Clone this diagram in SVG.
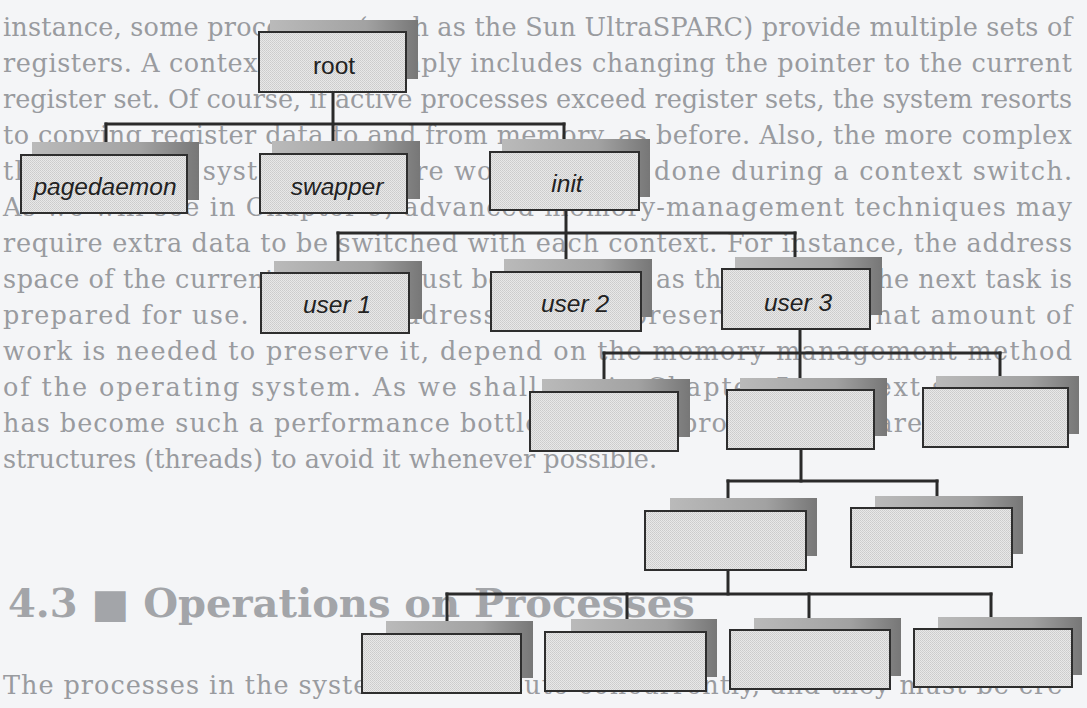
<svg xmlns="http://www.w3.org/2000/svg" width="1087" height="708" viewBox="0 0 1087 708">
  <defs>
    <!-- halftone-like fill for the process boxes -->
    <pattern id="dots" width="2" height="2" patternUnits="userSpaceOnUse">
      <rect width="2" height="2" fill="#e8e8e8"/>
      <rect width="1" height="1" fill="#cbcbcb"/>
      <rect x="1" y="1" width="1" height="1" fill="#d1d1d1"/>
    </pattern>
    <linearGradient id="shade" x1="0" y1="0" x2="1" y2="0">
      <stop offset="0" stop-color="#bababa"/>
      <stop offset="0.65" stop-color="#a2a2a2"/>
      <stop offset="1" stop-color="#777777"/>
    </linearGradient>
  </defs>
  <style>
    .page { fill: #f4f5f7; }
    .body { font-family: "DejaVu Serif", "Liberation Serif", serif; font-size: 25.5px; fill: #999b9f; }
    .head { font-family: "DejaVu Serif", "Liberation Serif", serif; font-size: 40px; font-weight: bold; fill: #a3a5a9; }
    .shadow { fill: url(#shade); }
    .box { fill: url(#dots); stroke: #2e2e2e; stroke-width: 2; }
    .lbl { font-family: "Liberation Sans", Arial, sans-serif; font-size: 24.5px; font-style: italic; fill: #222; text-anchor: middle; }
    .lbl.up { font-style: normal; }
    .wire { fill: none; stroke: #2a2a2a; stroke-width: 3; stroke-linecap: square; }
  </style>

  <rect class="page" x="0" y="0" width="1087" height="708"/>

  <!-- page text printed behind the figure -->
  <g id="page-text">
    <text class="body" x="3" y="36" textLength="1069" lengthAdjust="spacing">instance, some processors (such as the Sun UltraSPARC) provide multiple sets of</text>
    <text class="body" x="3" y="72" textLength="1069" lengthAdjust="spacing">registers. A context switch simply includes changing the pointer to the current</text>
    <text class="body" x="3" y="108" textLength="1069" lengthAdjust="spacing">register set. Of course, if active processes exceed register sets, the system resorts</text>
    <text class="body" x="3" y="144" textLength="1069" lengthAdjust="spacing">to copying register data to and from memory, as before. Also, the more complex</text>
    <text class="body" x="3" y="180" textLength="1069" lengthAdjust="spacing">the operating system, the more work must be done during a context switch.</text>
    <text class="body" x="3" y="216" textLength="1069" lengthAdjust="spacing">As we will see in Chapter 9, advanced memory-management techniques may</text>
    <text class="body" x="3" y="252" textLength="1069" lengthAdjust="spacing">require extra data to be switched with each context. For instance, the address</text>
    <text class="body" x="3" y="288" textLength="1069" lengthAdjust="spacing">space of the current process must be preserved as the space of the next task is</text>
    <text class="body" x="3" y="324" textLength="1069" lengthAdjust="spacing">prepared for use. How the address space is preserved, and what amount of</text>
    <text class="body" x="3" y="360" textLength="1069" lengthAdjust="spacing">work is needed to preserve it, depend on the memory-management method</text>
    <text class="body" x="3" y="396" textLength="1069" lengthAdjust="spacing">of the operating system. As we shall see in Chapter 5, context switching</text>
    <text class="body" x="3" y="432" textLength="1069" lengthAdjust="spacing">has become such a performance bottleneck that programmers are using new</text>
    <text class="body" x="3" y="468">structures (threads) to avoid it whenever possible.</text>
    <text class="head" x="8" y="617">4.3 ■ Operations on Processes</text>
    <text class="body" x="3" y="694" textLength="1069" lengthAdjust="spacing">The processes in the system can execute concurrently, and they must be cre-</text>
  </g>

  <!-- tree connectors -->
  <g id="connectors">
    <path class="wire" d="M333,92 V154"/>
    <path class="wire" d="M106,124 H564"/>
    <path class="wire" d="M106,124 V155"/>
    <path class="wire" d="M564,124 V152"/>
    <path class="wire" d="M566,210 V272"/>
    <path class="wire" d="M338,233 H795"/>
    <path class="wire" d="M338,233 V273"/>
    <path class="wire" d="M795,233 V269"/>
    <path class="wire" d="M800,329 V390"/>
    <path class="wire" d="M604,353 H1000"/>
    <path class="wire" d="M604,353 V392"/>
    <path class="wire" d="M1000,353 V388"/>
    <path class="wire" d="M801,449 V481"/>
    <path class="wire" d="M728,481 H937"/>
    <path class="wire" d="M728,481 V511"/>
    <path class="wire" d="M937,481 V508"/>
    <path class="wire" d="M728,570 V594"/>
    <path class="wire" d="M447,594 H991"/>
    <path class="wire" d="M447,594 V634"/>
    <path class="wire" d="M627,594 V632"/>
    <path class="wire" d="M809,594 V630"/>
    <path class="wire" d="M991,594 V629"/>
  </g>

  <!-- process nodes: drop shadow behind, box in front -->
  <g id="root">
    <rect class="shadow" x="270" y="20" width="148" height="59"/>
    <rect class="box" x="259" y="32" width="147" height="60"/>
    <text class="lbl up" x="334" y="74">root</text>
  </g>
  <g id="pagedaemon">
    <rect class="shadow" x="32" y="142" width="167" height="58"/>
    <rect class="box" x="21" y="155" width="166" height="58"/>
    <text class="lbl" x="105" y="195">pagedaemon</text>
  </g>
  <g id="swapper">
    <rect class="shadow" x="272" y="141" width="148" height="58"/>
    <rect class="box" x="260" y="154" width="147" height="59"/>
    <text class="lbl" x="337" y="195">swapper</text>
  </g>
  <g id="init">
    <rect class="shadow" x="502" y="139" width="148" height="58"/>
    <rect class="box" x="490" y="152" width="149" height="58"/>
    <text class="lbl" x="567" y="192">init</text>
  </g>
  <g id="user1">
    <rect class="shadow" x="274" y="261" width="148" height="58"/>
    <rect class="box" x="261" y="273" width="148" height="60"/>
    <text class="lbl" x="337" y="313">user 1</text>
  </g>
  <g id="user2">
    <rect class="shadow" x="504" y="259" width="148" height="58"/>
    <rect class="box" x="491" y="272" width="150" height="59"/>
    <text class="lbl" x="575" y="312">user 2</text>
  </g>
  <g id="user3">
    <rect class="shadow" x="735" y="257" width="147" height="58"/>
    <rect class="box" x="722" y="269" width="148" height="60"/>
    <text class="lbl" x="798" y="311">user 3</text>
  </g>
  <g id="child-a">
    <rect class="shadow" x="542" y="379" width="148" height="58"/>
    <rect class="box" x="530" y="392" width="148" height="59"/>
  </g>
  <g id="child-b">
    <rect class="shadow" x="740" y="378" width="147" height="58"/>
    <rect class="box" x="727" y="390" width="147" height="59"/>
  </g>
  <g id="child-c">
    <rect class="shadow" x="936" y="376" width="143" height="58"/>
    <rect class="box" x="923" y="388" width="145" height="59"/>
  </g>
  <g id="child-d">
    <rect class="shadow" x="670" y="498" width="147" height="58"/>
    <rect class="box" x="645" y="511" width="161" height="59"/>
  </g>
  <g id="child-e">
    <rect class="shadow" x="875" y="496" width="148" height="58"/>
    <rect class="box" x="851" y="508" width="161" height="59"/>
  </g>
  <g id="child-f">
    <rect class="shadow" x="386" y="621" width="147" height="57"/>
    <rect class="box" x="362" y="634" width="159" height="59"/>
  </g>
  <g id="child-g">
    <rect class="shadow" x="571" y="619" width="146" height="58"/>
    <rect class="box" x="545" y="632" width="161" height="59"/>
  </g>
  <g id="child-h">
    <rect class="shadow" x="754" y="618" width="147" height="58"/>
    <rect class="box" x="730" y="630" width="160" height="59"/>
  </g>
  <g id="child-i">
    <rect class="shadow" x="938" y="617" width="144" height="58"/>
    <rect class="box" x="914" y="629" width="158" height="58"/>
  </g>
</svg>
